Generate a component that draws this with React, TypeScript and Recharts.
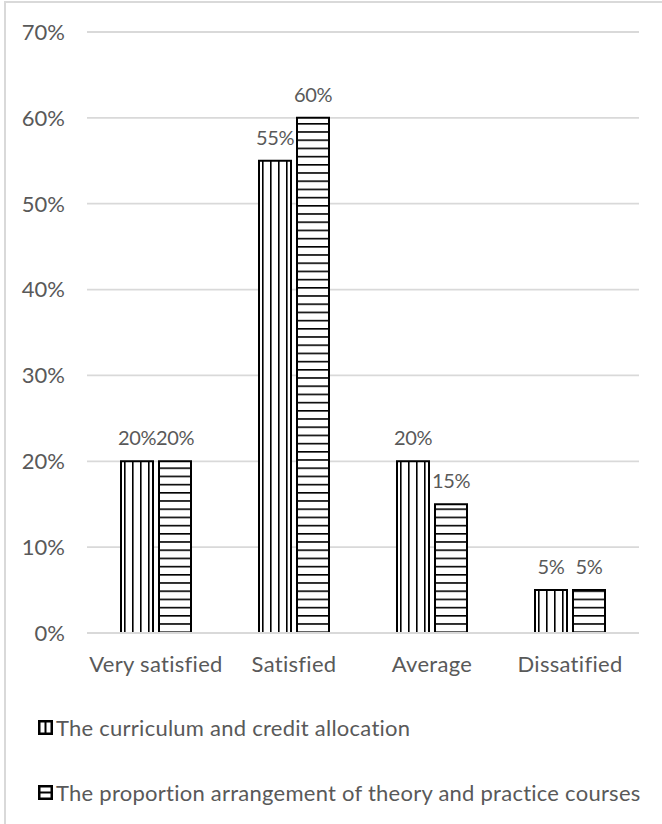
import React from "react";
import { BarChart, Bar, XAxis, YAxis, CartesianGrid, Legend, LabelList } from "recharts";

const categories = ["Very satisfied", "Satisfied", "Average", "Dissatified"];
const curriculum = [20, 55, 20, 5];
const proportion = [20, 60, 15, 5];
const yTicks = [0, 10, 20, 30, 40, 50, 60, 70];

const seriesNames = {
  curriculum: "The curriculum and credit allocation",
  proportion: "The proportion arrangement of theory and practice courses",
};

const data = categories.map((name, i) => ({
  name,
  curriculum: curriculum[i],
  proportion: proportion[i],
}));

const FONT = "Lato, 'Open Sans', sans-serif";
const TEXT = "#595959";
const GRID = "#d9d9d9";
const FONT_SIZE = 22;

// value labels sit close together over the paired bars, so they run a bit tighter
const labelStyle = { fill: TEXT, fontSize: 20, fontFamily: FONT, letterSpacing: -0.4 };

function LegendMarker({ vertical }: { vertical: boolean }) {
  return (
    <svg width={15} height={15} style={{ marginRight: 3, marginLeft: 2, flexShrink: 0 }}>
      <rect x={1.25} y={1.25} width={12.5} height={12.5} fill="#fff" stroke="#000" strokeWidth={2.5} />
      {vertical ? (
        <line x1={7.5} y1={1} x2={7.5} y2={14} stroke="#000" strokeWidth={2} />
      ) : (
        <line x1={1} y1={7.5} x2={14} y2={7.5} stroke="#000" strokeWidth={2} />
      )}
    </svg>
  );
}

function PatternLegend({ payload }: any) {
  return (
    <div style={{ fontFamily: FONT, fontSize: FONT_SIZE, color: TEXT, letterSpacing: 0.25 }}>
      {(payload || []).map((entry: any, i: number) => (
        <div
          key={entry.dataKey}
          style={{ display: "flex", alignItems: "center", height: 30, marginBottom: i === 0 ? 35 : 0 }}
        >
          <LegendMarker vertical={entry.dataKey === "curriculum"} />
          <span style={{ whiteSpace: "nowrap" }}>{entry.value}</span>
        </div>
      ))}
    </div>
  );
}

export default function App() {
  return (
    <div style={{ position: "absolute", left: 0, top: 0, width: 662, height: 824, background: "#fff", overflow: "hidden" }}>
      {/* chart frame, only its top and left edges fall inside the view */}
      <div
        style={{
          position: "absolute",
          left: 4,
          top: 1,
          width: 700,
          height: 900,
          borderLeft: `2px solid ${GRID}`,
          borderTop: `2px solid ${GRID}`,
        }}
      />
      <BarChart
        width={662}
        height={824}
        data={data}
        margin={{ top: 32, right: 23, bottom: 161, left: 0 }}
        barSize={32}
        barGap={6}
        style={{ position: "absolute", left: 0, top: 0, fontFamily: FONT }}
      >
        <defs>
          <pattern id="stripesVert" patternUnits="objectBoundingBox" width={0.25} height={1}>
            <rect x={0} y={0} width={8} height={1000} fill="#fff" />
            <rect x={3} y={0} width={1.6} height={1000} fill="#000" />
          </pattern>
          <pattern id="stripesHorz" patternUnits="userSpaceOnUse" width={8} height={8.2}>
            <rect x={0} y={0} width={8} height={8.2} fill="#fff" />
            <rect x={0} y={0} width={8} height={1.6} fill="#000" />
          </pattern>
        </defs>
        <CartesianGrid vertical={false} stroke={GRID} strokeWidth={1.8} />
        <XAxis
          dataKey="name"
          height={30}
          interval={0}
          tickLine={false}
          tickSize={0}
          tickMargin={23}
          axisLine={{ stroke: GRID, strokeWidth: 1.8 }}
          tick={{ fill: TEXT, fontSize: FONT_SIZE, fontFamily: FONT, letterSpacing: 0.3 }}
        />
        <YAxis
          width={87}
          domain={[0, 70]}
          ticks={yTicks}
          axisLine={false}
          tickLine={false}
          tickSize={0}
          tickMargin={22}
          tickFormatter={(v) => `${v}%`}
          tick={{ fill: TEXT, fontSize: FONT_SIZE, fontFamily: FONT }}
        />
        <Legend
          layout="vertical"
          align="center"
          verticalAlign="middle"
          wrapperStyle={{ left: 36, top: 712, width: 626 }}
          content={<PatternLegend />}
        />
        <Bar
          dataKey="curriculum"
          name={seriesNames.curriculum}
          fill="url(#stripesVert)"
          stroke="#000"
          strokeWidth={2}
          isAnimationActive={false}
        >
          <LabelList
            dataKey="curriculum"
            position="top"
            offset={16}
            formatter={(v: any) => `${v}%`}
            style={labelStyle}
          />
        </Bar>
        <Bar
          dataKey="proportion"
          name={seriesNames.proportion}
          fill="url(#stripesHorz)"
          stroke="#000"
          strokeWidth={2}
          isAnimationActive={false}
        >
          <LabelList
            dataKey="proportion"
            position="top"
            offset={16}
            formatter={(v: any) => `${v}%`}
            style={labelStyle}
          />
        </Bar>
      </BarChart>
    </div>
  );
}
